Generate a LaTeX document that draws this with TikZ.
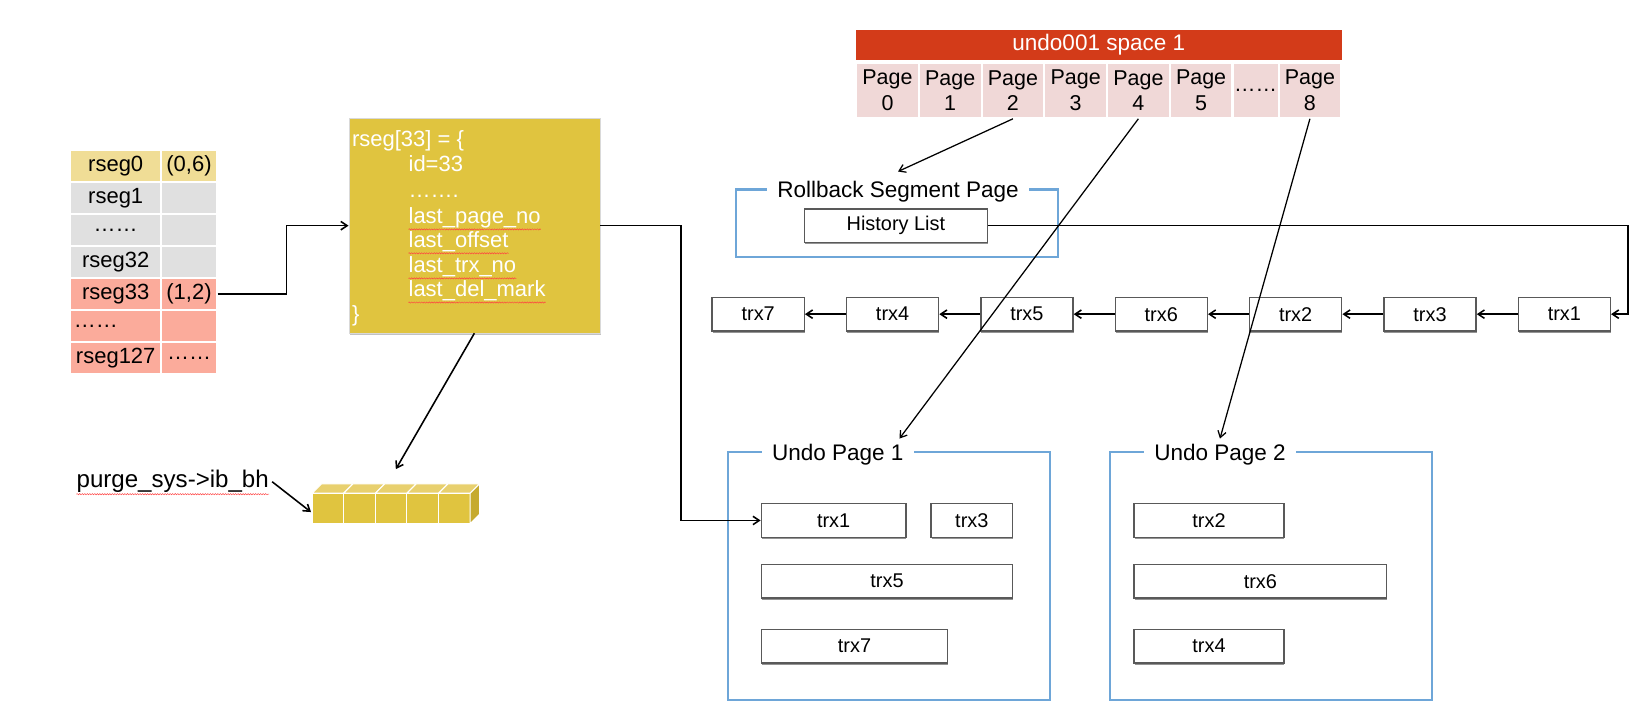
\documentclass[tikz,border=0pt]{standalone}
\usepackage{fontspec}
\setmainfont{Liberation Sans}
\usetikzlibrary{positioning,shadows,decorations.pathmorphing,arrows.meta}
\tikzset{>={Straight Barb[length=6pt,width=8pt]}}
\definecolor{clhead}{HTML}{D33B19}
\definecolor{clpage}{HTML}{F0D8D7}
\definecolor{clseg}{HTML}{E0C43F}
\definecolor{clsegtop}{HTML}{E8D06E}
\definecolor{clsegside}{HTML}{C6AA2E}
\definecolor{cltan}{HTML}{F0DD96}
\definecolor{clgrey}{HTML}{E0E0E0}
\definecolor{clsalmon}{HTML}{FBAB9B}
\definecolor{clframe}{HTML}{6EA6D8}
\tikzset{
  cell/.style={draw=white, line width=1.5, minimum height=30.6, inner sep=0, font=\fontsize{21}{24}\selectfont},
  pagecell/.style={draw=white, line width=2, fill=clpage, minimum width=59.9, minimum height=52.5, inner sep=0, align=center, font=\fontsize{20.5}{24}\selectfont},
  trxbox/.style={draw=black!65, line width=1.3, fill=white, minimum height=32, inner sep=0, drop shadow={shadow xshift=0.5pt, shadow yshift=-1.8pt, fill=black!60, opacity=.7}, font=\fontsize{19}{22}\selectfont},
  frame/.style={draw=clframe, line width=2, inner sep=0},
  frametitle/.style={fill=white, anchor=west, inner xsep=10, inner ysep=1, font=\fontsize{21.5}{24}\selectfont},
  segtext/.style={text=white, inner sep=0, anchor=base west, font=\fontsize{21}{24}\selectfont},
  spell/.style={draw=red!75, line width=0.45, decorate, decoration={snake, amplitude=0.6pt, segment length=2.4pt}},
  link/.style={line width=1.5},
}

\begin{document}
\begin{tikzpicture}[x=1pt, y=-1pt]
    \useasboundingbox (0,0) rectangle (1567,684);
    % rollback segment slots
    \foreach \lab/\val/\col [count=\i from 0] in {rseg0/{(0,6)}/cltan, rseg1//clgrey, ……//clgrey, rseg32//clgrey, rseg33/{(1,2)}/clsalmon, //clsalmon, rseg127/……/clsalmon}{
        \node[cell, fill=\col, minimum width=87] (key\i) at (110.5, {158.3+30.6*\i}) {\lab};
        \node[cell, fill=\col, minimum width=53] (val\i) at (180.5, {158.3+30.6*\i}) {\val};
    }
    \node[anchor=west, inner sep=4, font=\fontsize{21}{24}\selectfont] (dots5) at (key5.west) {……};
    % rseg[33]
    \node[fill=clseg, draw=black!15, minimum width=240, minimum height=205, drop shadow={shadow xshift=1pt, shadow yshift=-1.5pt, fill=black!40, opacity=.6}] (segbox) at (453,215.5) {};
    \node[segtext] (s0) at (336,140) {rseg[33] = \{};
    \node[segtext] (s1) at (390,164) {id=33};
    \node[segtext] (s2) at (390,189) {…….};
    \node[segtext] (s3) at (390,213) {last\_page\_no};
    \node[segtext] (s4) at (390,236) {last\_offset};
    \node[segtext] (s5) at (390,260) {last\_trx\_no};
    \node[segtext] (s6) at (390,283) {last\_del\_mark};
    \node[segtext] (s7) at (336,307) {\}};
    \foreach \s in {s3,s4,s5,s6}
        \draw[spell] ([yshift=-1.5pt]\s.south west) -- ([yshift=-1.5pt]\s.south east);
    \draw[link,->] (val4.east) -- ++(66,0) |- (segbox.west);
    % ib_bh
    \node[anchor=west, inner sep=0, font=\fontsize{23}{26}\selectfont] (purge) at (73,460) {purge\_sys->ib\_bh};
    \draw[spell] ([yshift=-1pt]purge.south west) -- ([yshift=-1pt]purge.south east);
    \foreach \k in {0,...,4}{
        \filldraw[fill=clsegtop, draw=white, line width=1] ({298+30.2*\k},471) -- ++(9,-9) -- ++(30.2,0) -- ++(-9,9) -- cycle;
        \filldraw[fill=clseg, draw=white, line width=1] ({298+30.2*\k},471) rectangle ++(30.2,29);
    }
    \filldraw[fill=clsegside, draw=white, line width=1] (449,471) -- ++(9,-9) -- ++(0,29) -- ++(-9,9) -- cycle;
    \coordinate (bhtop) at (378,448);
    \coordinate (bhleft) at (297,489);
    \draw[link,->] (segbox.south) -- (bhtop);
    \draw[link,->] ([xshift=3pt]purge.east) -- (bhleft);
    % undo tablespace
    \node[fill=clhead, text=white, minimum width=463.5, minimum height=28.7, inner sep=0, font=\fontsize{21.5}{24}\selectfont] (head) at (1049.25,43) {undo001 space 1};
    \foreach \n in {0,...,5}
        \node[pagecell] (pg\n) at ({847.45+59.9*\n},86.2) {Page\\\n};
    \node[pagecell, minimum width=44] (pgdots) at (1198.9,86.2) {……};
    \node[pagecell] (pg8) at (1250.85,86.2) {Page\\8};
    % rollback segment page
    \node[frame, minimum width=307, minimum height=64] (rbpage) at (856.5,213) {};
    \node[frametitle] (rbtitle) at ([xshift=30pt,yshift=-3pt]rbpage.north west) {Rollback Segment Page};
    \node[trxbox, minimum width=175] (hist) at (855.5,215.5) {History List};
    % history list
    \foreach \t [count=\i from 0] in {7,4,5,6,2,3,1}
        \node[trxbox, minimum width=88] (t\t) at ({724+128.3*\i},300) {trx\t};
    \foreach \a/\b in {1/3,3/2,2/6,6/5,5/4,4/7}
        \draw[link,->] (t\a) -- (t\b);
    \draw[link,->] (hist.east) -| ([xshift=16pt]t1.east) -- (t1.east);
    % undo pages
    \node[frame, minimum width=308, minimum height=236] (undo1) at (849,550) {};
    \node[frame, minimum width=307, minimum height=236] (undo2) at (1213.5,550) {};
    \node[frametitle] (u1title) at ([xshift=33pt,yshift=-3pt]undo1.north west) {Undo Page 1};
    \node[frametitle] (u2title) at ([xshift=33pt,yshift=-3pt]undo2.north west) {Undo Page 2};
    \node[trxbox, minimum width=138] (u1trx1) at (796,497) {trx1};
    \node[trxbox, minimum width=78] (u1trx3) at (928,497) {trx3};
    \node[trxbox, minimum width=240] (u1trx5) at (847,555) {trx5};
    \node[trxbox, minimum width=178] (u1trx7) at (816,617) {trx7};
    \node[trxbox, minimum width=143] (u2trx2) at (1154.5,497) {trx2};
    \node[trxbox, minimum width=241] (u2trx6) at (1203.5,555) {trx6};
    \node[trxbox, minimum width=143] (u2trx4) at (1154.5,617) {trx4};
    \draw[link,->] (segbox.east) -| ([xshift=-76pt]u1trx1.west) -- (u1trx1.west);
    % page pointers
    \draw[line width=1.2,->] (pg2.south) -- ([yshift=8pt]rbtitle.north);
    \draw[line width=1.2,->] (pg4.south) -- ([xshift=-14pt,yshift=4pt]u1title.north east);
    \draw[line width=1.2,->] (pg8.south) -- ([yshift=4pt]u2title.north);
\end{tikzpicture}
\end{document}
